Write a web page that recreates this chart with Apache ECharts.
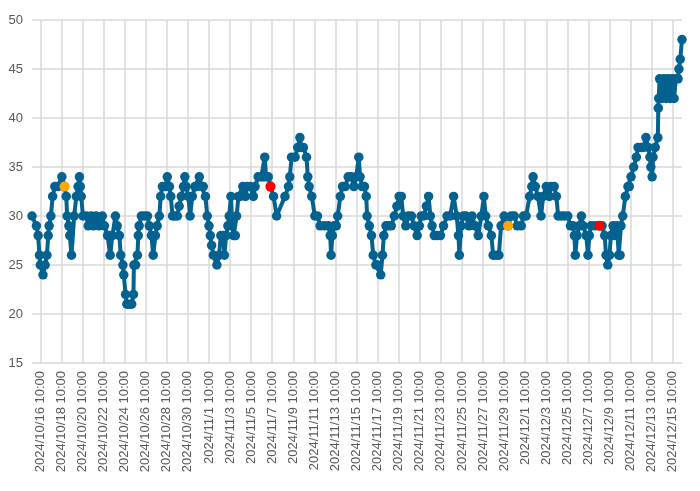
<!DOCTYPE html>
<html>
<head>
<meta charset="utf-8">
<script src="https://cdn.jsdelivr.net/npm/echarts@6/dist/echarts.min.js"></script>
<style>
  html, body { margin: 0; padding: 0; background: #fff; }
  #chart { width: 700px; height: 491px; }
</style>
</head>
<body>
<div id="chart"></div>
<script>
// x 轴刻度标签（每 2 天一个）
const tickLabels = [
  '2024/10/16 10:00', '2024/10/18 10:00', '2024/10/20 10:00', '2024/10/22 10:00',
  '2024/10/24 10:00', '2024/10/26 10:00', '2024/10/28 10:00', '2024/10/30 10:00',
  '2024/11/1 10:00', '2024/11/3 10:00', '2024/11/5 10:00', '2024/11/7 10:00',
  '2024/11/9 10:00', '2024/11/11 10:00', '2024/11/13 10:00', '2024/11/15 10:00',
  '2024/11/17 10:00', '2024/11/19 10:00', '2024/11/21 10:00', '2024/11/23 10:00',
  '2024/11/25 10:00', '2024/11/27 10:00', '2024/11/29 10:00', '2024/12/1 10:00',
  '2024/12/3 10:00', '2024/12/5 10:00', '2024/12/7 10:00', '2024/12/9 10:00',
  '2024/12/11 10:00', '2024/12/13 10:00', '2024/12/15 10:00'
];
const tickStep = 48; // 小时
const tickHours = tickLabels.map((_, k) => k * tickStep);

// 时间：相对 2024/10/16 10:00 的小时数
const hours = [
  -19, -9, -5, -2, 0, 6, 11, 15, 18, 20, 24, 28, 33, 40, 49, 55, 59, 61, 65, 67, 71,
  77, 82, 86, 89, 91, 93, 97, 105, 109, 116, 121, 127, 134, 141, 146,
  153, 157, 159, 164, 171, 175, 180, 183, 188, 190, 194, 197, 203, 208, 212, 213, 217,
  221, 223, 225, 230, 237, 244, 248, 253, 257, 262, 266, 271, 274, 278, 285, 289, 294,
  297, 301, 306, 312, 316, 321, 326, 329, 332, 337, 341, 346, 352, 355, 362, 367, 371,
  376, 380, 384, 387, 390, 394, 402, 407, 411, 417, 419, 423, 427, 430, 434, 437, 440,
  444, 447, 451, 455, 461, 467, 471, 478, 485, 489, 496, 503, 507, 511, 514, 519, 524,
  531, 538, 557, 565, 568, 572, 580, 586, 591, 594, 599, 606, 609, 612, 618, 625, 631,
  637, 647, 656, 660, 662, 665, 669, 674, 677, 683, 688, 694, 701, 708, 714, 719, 725,
  728, 733, 738, 742, 744, 749, 754, 758, 764, 768, 775, 779, 782, 787, 792, 799, 806,
  812, 817, 822, 826, 832, 838, 845, 851, 858, 863, 867, 873, 879, 884, 888, 892, 897,
  904, 911, 918, 926, 933, 941, 948, 952, 954, 958, 963, 969, 976, 983, 990, 997, 1004,
  1010, 1014, 1020, 1027, 1031, 1038, 1044, 1049, 1056, 1065, 1072, 1079, 1086, 1095,
  1100, 1106, 1114, 1119, 1122, 1127, 1133, 1140, 1145, 1152, 1159, 1163, 1170, 1175,
  1179, 1186, 1193, 1201, 1207, 1213, 1216, 1218, 1222, 1227, 1232, 1236, 1243, 1247,
  1250, 1254, 1263, 1273, 1279, 1285, 1288, 1292, 1296, 1299, 1304, 1308, 1313, 1317,
  1320, 1322, 1326, 1332, 1338, 1341, 1345, 1351, 1357, 1361, 1368, 1373, 1379, 1384,
  1388, 1390, 1393, 1395, 1400, 1406, 1407, 1408, 1410, 1415, 1420, 1425, 1429, 1434,
  1438, 1443, 1447, 1452, 1454, 1457, 1461
];
const values = [
  30, 29, 28, 26, 25, 24, 25, 26, 28, 29, 30, 32, 33, 33, 34, 33, 32, 30, 29, 28, 26,
  30, 32, 33, 34, 33, 32, 30, 30, 29, 30, 29, 30, 29, 30, 29,
  28, 28, 26, 28, 30, 29, 28, 26, 25, 24, 22, 21, 21, 21, 22, 25, 25,
  26, 28, 29, 30, 30, 30, 29, 28, 26, 28, 29, 30, 32, 33, 33, 34, 33,
  32, 30, 30, 30, 31, 32, 33, 34, 33, 32, 30, 32, 33, 33, 34, 33, 33,
  32, 30, 29, 28, 27, 26, 25, 26, 28, 28, 26, 28, 29, 30, 32, 29, 28,
  28, 30, 32, 32, 33, 32, 33, 33, 32, 33, 34, 34, 34, 36, 34, 34, 33,
  32, 30, 32, 33, 34, 36, 36, 37, 38, 37, 37, 36, 34, 33, 32, 30, 30,
  29, 29, 29, 28, 26, 28, 29, 29, 30, 32, 33, 33, 34, 34, 33, 34, 36,
  34, 33, 33, 32, 30, 29, 28, 26, 25, 25, 24, 26, 28, 29, 29, 29, 30,
  31, 32, 32, 30, 29, 30, 30, 29, 28, 29, 30, 30, 31, 32, 30, 29, 28,
  28, 28, 29, 30, 30, 32, 30, 28, 26, 29, 30, 30, 29, 30, 29, 28, 30,
  32, 30, 29, 28, 26, 26, 26, 29, 30, 29, 30, 30, 29, 29,
  30, 30, 32, 33, 34, 33, 32, 30, 32, 33, 32, 33, 33, 32,
  30, 30, 30, 30, 29, 29, 28, 26, 28, 29, 30, 29, 28, 26,
  28, 29, 29, 29, 29, 28, 26, 25, 26, 28, 29, 28, 29, 26,
  26, 29, 30, 32, 33, 33, 34, 35, 36, 37, 37, 37, 38, 37,
  36, 35, 34, 36, 37, 38, 41, 42, 44, 42, 44, 42, 44, 42,
  44, 42, 44, 44, 45, 46, 48
];

// 高亮点
const orangePoints = [[55, 33], [1065, 29]];
const redPoints = [[524, 33], [1273, 29]];

const lineColor = '#03628f';
const labelColor = '#595959';
const gridColor = '#d9d9d9';

const chart = echarts.init(document.getElementById('chart'));
chart.setOption({
  animation: false,
  grid: { left: 32, right: 18, top: 20, bottom: 128 },
  xAxis: {
    type: 'value',
    min: -19,
    max: 1461,
    axisLine: { show: false },
    axisTick: { show: false, customValues: tickHours },
    axisLabel: {
      customValues: tickHours,
      rotate: 90,
      margin: 8,
      fontSize: 13,
      color: labelColor,
      fontFamily: 'Liberation Sans',
      formatter: (v) => tickLabels[Math.round(v / tickStep)]
    },
    splitLine: { show: true, lineStyle: { color: gridColor, width: 1.5 } }
  },
  yAxis: {
    type: 'value',
    min: 15,
    max: 50,
    interval: 5,
    axisLine: { show: false },
    axisTick: { show: false },
    axisLabel: { fontSize: 13, color: labelColor, margin: 9, fontFamily: 'Liberation Sans' },
    splitLine: { lineStyle: { color: gridColor, width: 1.5 } }
  },
  series: [
    {
      type: 'line',
      data: hours.map((h, i) => [h, values[i]]),
      symbol: 'circle',
      symbolSize: 9.5,
      showAllSymbol: true,
      clip: false,
      lineStyle: { color: lineColor, width: 4 },
      itemStyle: { color: lineColor }
    },
    {
      type: 'scatter',
      data: orangePoints,
      symbolSize: 10,
      itemStyle: { color: '#ffa500', opacity: 1 },
      z: 5
    },
    {
      type: 'scatter',
      data: redPoints,
      symbolSize: 10,
      itemStyle: { color: '#ff0000', opacity: 1 },
      z: 5
    }
  ]
});
</script>
</body>
</html>
